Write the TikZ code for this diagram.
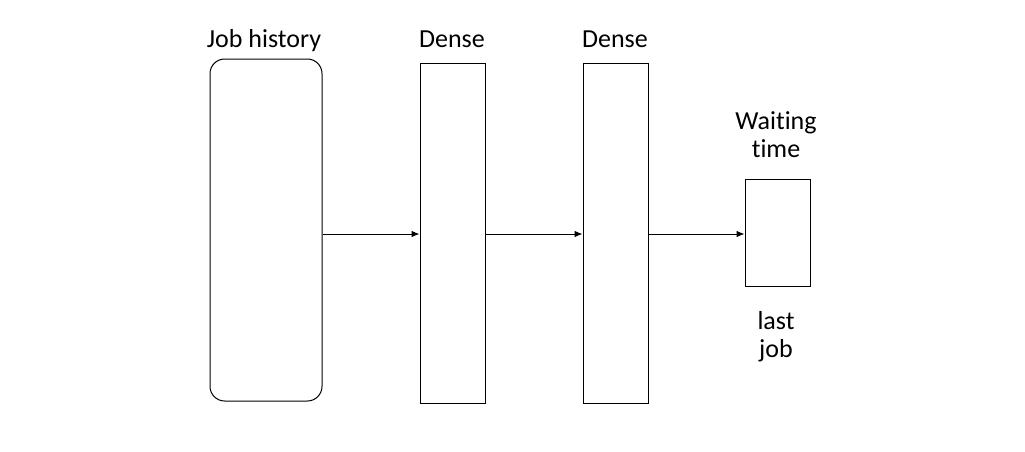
\documentclass[tikz,border=0pt]{standalone}
\usepackage{fontspec}
\setmainfont{Carlito}[Ligatures=NoCommon]
\usetikzlibrary{arrows.meta,positioning,calc}
\tikzset{every picture/.style={line width=0.75pt}}

\begin{document}
\begin{tikzpicture}[x=0.75pt,y=-0.75pt,
    layerbox/.style={draw, minimum width=48.75pt},
    label/.style={anchor=base, align=center, font=\fontsize{19.5}{21}\selectfont},
    link/.style={-{Latex[length=6pt,width=5pt]}}]
    \useasboundingbox (0,0) rectangle (1025,451);
    % Layers
    \node[draw, rounded corners=11pt, minimum width=84pt, minimum height=256.5pt] (hist) at (266,230) {};
    \node[layerbox, minimum height=255pt] (dense1) at (452.5,233) {};
    \node[layerbox, minimum height=255pt] (dense2) at (615.5,233) {};
    \node[layerbox, minimum height=80.25pt] (out) at (777.5,232.5) {};
    % Labels (base of the last line)
    \node[label] (histlab) at (264,47) {Job history};
    \node[label] (dense1lab) at (452,47) {Dense};
    \node[label] (dense2lab) at (615,47) {Dense};
    \node[label] (outlab) at (776,157) {Waiting\\time};
    \node[label] (lastlab) at (776,357) {last\\job};
    % Connections
    \draw[link] (hist.east |- 0,234) -- (dense1.west |- 0,234);
    \draw[link] (dense1.east |- 0,234) -- (dense2.west |- 0,234);
    \draw[link] (dense2.east |- 0,234) -- (out.west |- 0,234);
\end{tikzpicture}
\end{document}
